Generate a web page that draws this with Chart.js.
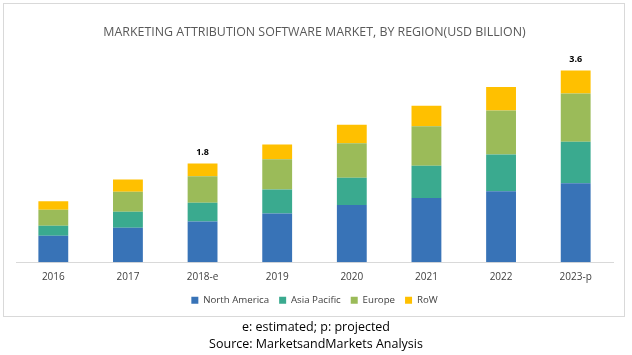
<!DOCTYPE html>
<html>
<head>
<meta charset="utf-8">
<script src="https://cdn.jsdelivr.net/npm/chart.js@4.4.1/dist/chart.umd.min.js"></script>
<style>
  html, body { margin: 0; padding: 0; background: #ffffff; }
  #wrap { position: relative; width: 632px; height: 355px; overflow: hidden; }
  #frame { position: absolute; left: 3px; top: 3px; width: 620px; height: 312px; border: 1px solid #d9d9d9; }
  canvas { position: absolute; left: 0; top: 0; }
  .foot { position: absolute; left: 0; width: 632px; text-align: center; font-family: 'Open Sans', sans-serif; font-size: 12.5px; color: #000; line-height: 16px; }
</style>
</head>
<body>
<div id="wrap">
  <div id="frame"></div>
  <canvas id="c" width="632" height="355"></canvas>
  <div class="foot" style="top:319px;">e: estimated; p: projected</div>
  <div class="foot" style="top:336px;">Source: MarketsandMarkets Analysis</div>
</div>
<script>
const categories = ['2016', '2017', '2018-e', '2019', '2020', '2021', '2022', '2023-p'];
const northAmerica = [0.50, 0.65, 0.77, 0.92, 1.08, 1.21, 1.34, 1.49];
const asiaPacific  = [0.19, 0.30, 0.35, 0.45, 0.51, 0.61, 0.69, 0.78];
const europe       = [0.30, 0.38, 0.50, 0.57, 0.65, 0.74, 0.83, 0.91];
const row          = [0.16, 0.23, 0.24, 0.28, 0.35, 0.39, 0.44, 0.43];
const totalLabels  = ['', '', '1.8', '', '', '', '', '3.6'];
const titleText = 'MARKETING ATTRIBUTION SOFTWARE MARKET, BY REGION(USD BILLION)';

const totalLabelPlugin = {
  id: 'totalLabels',
  afterDatasetsDraw(chart) {
    const ctx = chart.ctx;
    const top = chart.data.datasets.length - 1;
    const meta = chart.getDatasetMeta(top);
    ctx.save();
    ctx.font = 'bold 9px "Open Sans", sans-serif';
    ctx.fillStyle = '#000000';
    ctx.textAlign = 'center';
    ctx.textBaseline = 'bottom';
    meta.data.forEach((bar, i) => {
      if (totalLabels[i]) ctx.fillText(totalLabels[i], bar.x, bar.y - 7);
    });
    ctx.restore();
  }
};

new Chart(document.getElementById('c'), {
  type: 'bar',
  data: {
    labels: categories,
    datasets: [
      { label: 'North America', data: northAmerica, backgroundColor: '#3873b7' },
      { label: 'Asia Pacific', data: asiaPacific, backgroundColor: '#3aaa8f' },
      { label: 'Europe', data: europe, backgroundColor: '#9bbb59' },
      { label: 'RoW', data: row, backgroundColor: '#ffc000' }
    ]
  },
  options: {
    responsive: false,
    animation: false,
    devicePixelRatio: 1,
    datasets: { bar: { barPercentage: 0.4, categoryPercentage: 1.0, borderWidth: 0 } },
    layout: { padding: { left: 16, right: 19, top: 15, bottom: 40 } },
    scales: {
      x: {
        stacked: true,
        grid: { display: false, drawTicks: false },
        border: { display: true, color: '#d9d9d9', width: 1 },
        ticks: { color: '#404040', font: { family: '"Open Sans", sans-serif', size: 10 }, padding: 9 },
        afterFit(scale) { scale.height = 23; }
      },
      y: {
        stacked: true,
        display: false,
        min: 0,
        max: 4
      }
    },
    plugins: {
      title: {
        display: true,
        text: titleText,
        color: '#595959',
        font: { family: '"Open Sans", sans-serif', size: 12.4, weight: 'normal' },
        padding: { top: 10, bottom: 10 }
      },
      legend: {
        position: 'bottom',
        labels: {
          boxWidth: 7,
          boxHeight: 7,
          padding: 10,
          color: '#404040',
          font: { family: '"Open Sans", sans-serif', size: 9.7 }
        }
      },
      tooltip: { enabled: false }
    }
  },
  plugins: [totalLabelPlugin]
});
</script>
</body>
</html>
